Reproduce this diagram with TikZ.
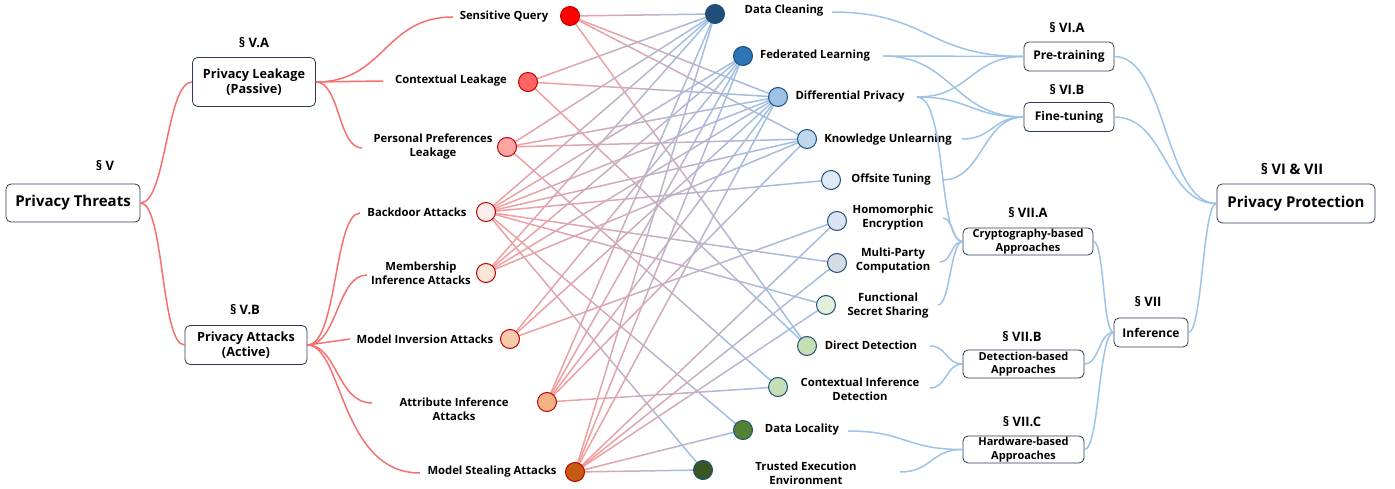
\documentclass[tikz,border=0pt]{standalone}
\usepackage{fontspec}
\setmainfont{Open Sans}
\usetikzlibrary{calc,backgrounds}
\definecolor{boxc}{HTML}{2B3A55}
\definecolor{lred}{HTML}{F77070}
\definecolor{lblue}{HTML}{9DC3E6}
\definecolor{epink}{HTML}{F59C9C}
\definecolor{eblue}{HTML}{9CC1E6}
\definecolor{dred}{HTML}{C00000}
\definecolor{dblue}{HTML}{1F4E79}
\definecolor{cA}{HTML}{FF0000}
\definecolor{cB}{HTML}{FF6565}
\definecolor{cC}{HTML}{FFA5A5}
\definecolor{cD}{HTML}{FDEEEE}
\definecolor{cE}{HTML}{FBE5D6}
\definecolor{cF}{HTML}{F8CBAD}
\definecolor{cG}{HTML}{F4B183}
\definecolor{cH}{HTML}{C55A11}
\definecolor{qA}{HTML}{1F4E79}
\definecolor{qB}{HTML}{2E75B6}
\definecolor{qC}{HTML}{9DC3E6}
\definecolor{qD}{HTML}{BDD7EE}
\definecolor{qE}{HTML}{DEEBF7}
\definecolor{qF}{HTML}{DAE3F3}
\definecolor{qG}{HTML}{D6DCE5}
\definecolor{qH}{HTML}{E2F0D9}
\definecolor{qI}{HTML}{C5E0B4}
\definecolor{qJ}{HTML}{C5E0B4}
\definecolor{qK}{HTML}{548235}
\definecolor{qL}{HTML}{385723}
\newcommand\gedge[2]{%
  \foreach \k in {0,...,9}{%
    \pgfmathsetmacro\ta{\k/10}%
    \pgfmathsetmacro\tb{(\k+1)/10}%
    \pgfmathtruncatemacro\mx{95-10*\k}%
    \draw[gline, draw=epink!\mx!eblue] ($(#1)!\ta!(#2)$) -- ($(#1)!\tb!(#2)$);
  }}
\begin{document}
\begin{tikzpicture}[x=1pt,y=-1pt,
  box/.style={draw=boxc, line width=0.8pt, rounded corners=5pt, fill=white, align=center,
    font=\bfseries\fontsize{12.7}{15.5}\selectfont, inner sep=0pt},
  sbox/.style={box, font=\bfseries\fontsize{11}{13.5}\selectfont},
  sec/.style={font=\bfseries\fontsize{13}{15}\selectfont, inner sep=0pt},
  leaf/.style={font=\bfseries\fontsize{11.3}{14}\selectfont, align=center, inner sep=0pt},
  tdot/.style={circle, draw=dred, line width=1pt, minimum size=19pt, inner sep=0pt},
  pdot/.style={circle, draw=dblue, line width=1pt, minimum size=19pt, inner sep=0pt},
  rline/.style={draw=lred, line width=1.5pt},
  bline/.style={draw=lblue, line width=1.5pt},
  gline/.style={line width=1.5pt, line cap=round}]
\useasboundingbox (0,0) rectangle (1395,489);

% ---------- left tree ----------
\node[sec] (sV) at (105,166) {§ V};
\node[box, minimum width=134pt, minimum height=38pt, font=\bfseries\fontsize{15}{17}\selectfont] (PT) at (73,203) {Privacy Threats};
\node[sec] (sVA) at (254,43) {§ V.A};
\node[box, minimum width=123pt, minimum height=49pt] (PL) at (254,82) {Privacy Leakage\\(Passive)};
\node[sec] (sVB) at (245,310) {§ V.B};
\node[box, minimum width=122pt, minimum height=39pt] (PA) at (246,345) {Privacy Attacks\\(Active)};

\node[leaf] (l1) at (504,17) {Sensitive Query};
\node[leaf] (l2) at (451,81) {Contextual Leakage};
\node[leaf] (l3) at (433,147) {Personal Preferences\\Leakage};
\node[leaf] (l4) at (417,212) {Backdoor Attacks};
\node[leaf] (l5) at (421,273) {Membership\\Inference Attacks};
\node[leaf] (l6) at (425,339) {Model Inversion Attacks};
\node[leaf] (l7) at (454,409) {Attribute Inference\\Attacks};
\node[leaf] (l8) at (492,472) {Model Stealing Attacks};

\coordinate (e1) at (453,17);
\coordinate (e2) at (383,81);
\coordinate (e3) at (362,148);
\coordinate (e4) at (360,213);
\coordinate (e5) at (367,275);
\coordinate (e6) at (350,339);
\coordinate (e7) at (372,403);
\coordinate (e8) at (420,473);

\draw[rline] (PT.east) .. controls +(26,0) and +(-26,0) .. (PL.west);
\draw[rline] (PT.east) .. controls +(24,0) and +(-24,0) .. (PA.west);
\draw[rline] (PL.east) .. controls +(69,0) and +(-69,0) .. (e1);
\draw[rline] (PL.east) -- (e2);
\draw[rline] (PL.east) .. controls +(24,0) and +(-24,0) .. (e3);
\draw[rline] (PA.east) .. controls +(30,0) and +(-26,0) .. (e4);
\draw[rline] (PA.east) .. controls +(30,0) and +(-30,0) .. (e5);
\draw[rline] (PA.east) -- (e6);
\draw[rline] (PA.east) .. controls +(30,0) and +(-35,0) .. (e7);
\draw[rline] (PA.east) .. controls +(35,0) and +(-80,0) .. (e8);

% ---------- threat dots ----------
\node[tdot, fill=cA] (t1) at (570,16) {};
\node[tdot, fill=cB] (t2) at (528,82) {};
\node[tdot, fill=cC] (t3) at (507,147) {};
\node[tdot, fill=cD] (t4) at (486,212) {};
\node[tdot, fill=cE] (t5) at (486,273) {};
\node[tdot, fill=cF] (t6) at (510,339) {};
\node[tdot, fill=cG] (t7) at (547,402) {};
\node[tdot, fill=cH] (t8) at (575,472) {};

% ---------- protection dots ----------
\node[pdot, fill=qA] (p1) at (715,14) {};
\node[pdot, fill=qB] (p2) at (743,56) {};
\node[pdot, fill=qC] (p3) at (778,97) {};
\node[pdot, fill=qD] (p4) at (807,139) {};
\node[pdot, fill=qE] (p5) at (831,180) {};
\node[pdot, fill=qF] (p6) at (837,221) {};
\node[pdot, fill=qG] (p7) at (837,263) {};
\node[pdot, fill=qH] (p8) at (826,305) {};
\node[pdot, fill=qI] (p9) at (807,346) {};
\node[pdot, fill=qJ] (p10) at (778,387) {};
\node[pdot, fill=qK] (p11) at (743,430) {};
\node[pdot, fill=qL] (p12) at (703,470) {};

\begin{pgfonlayer}{background}
\gedge{t1}{p1}\gedge{t1}{p3}\gedge{t1}{p4}\gedge{t1}{p9}
\gedge{t2}{p1}\gedge{t2}{p3}\gedge{t2}{p9}
\gedge{t3}{p1}\gedge{t3}{p3}\gedge{t3}{p4}\gedge{t3}{p10}
\gedge{t4}{p1}\gedge{t4}{p2}\gedge{t4}{p3}\gedge{t4}{p4}\gedge{t4}{p5}\gedge{t4}{p7}\gedge{t4}{p8}\gedge{t4}{p11}\gedge{t4}{p12}
\gedge{t5}{p1}\gedge{t5}{p2}\gedge{t5}{p3}\gedge{t5}{p4}
\gedge{t6}{p2}\gedge{t6}{p3}\gedge{t6}{p6}
\gedge{t7}{p1}\gedge{t7}{p2}\gedge{t7}{p3}\gedge{t7}{p4}\gedge{t7}{p10}
\gedge{t8}{p1}\gedge{t8}{p2}\gedge{t8}{p3}\gedge{t8}{p6}\gedge{t8}{p7}\gedge{t8}{p8}\gedge{t8}{p11}\gedge{t8}{p12}
\end{pgfonlayer}

% ---------- protection texts ----------
\node[leaf] (r1) at (784,11) {Data Cleaning};
\node[leaf] (r2) at (815,56) {Federated Learning};
\node[leaf] (r3) at (850,97) {Differential Privacy};
\node[leaf] (r4) at (888,140) {Knowledge Unlearning};
\node[leaf] (r5) at (891,180) {Offsite Tuning};
\node[leaf] (r6) at (893,218) {Homomorphic\\Encryption};
\node[leaf] (r7) at (893,261) {Multi-Party\\Computation};
\node[leaf] (r8) at (888,306) {Functional\\Secret Sharing};
\node[leaf] (r9) at (871,345) {Direct Detection};
\node[leaf] (r10) at (860,389) {Contextual Inference\\Detection};
\node[leaf] (r11) at (802,430) {Data Locality};
\node[leaf] (r12) at (806,473) {Trusted Execution\\Environment};

\coordinate (s1) at (832,12);
\coordinate (s2) at (883,56);
\coordinate (s3) at (917,97);
\coordinate (s4) at (962,139);
\coordinate (s5) at (942,180);
\coordinate (s6) at (943,218);
\coordinate (s7) at (940,262);
\coordinate (s8) at (938,305);
\coordinate (s9) at (930,346);
\coordinate (s10) at (930,388);
\coordinate (s11) at (848,431);
\coordinate (s12) at (900,472);

% ---------- right tree ----------
\node[sec] (sVIA) at (1067,28) {§ VI.A};
\node[box, minimum width=90pt, minimum height=29pt, font=\bfseries\fontsize{12}{14}\selectfont] (PRE) at (1069,56.5) {Pre-training};
\node[sec] (sVIB) at (1067,90) {§ VI.B};
\node[box, minimum width=90pt, minimum height=29pt, font=\bfseries\fontsize{12}{14}\selectfont] (FT) at (1069,117) {Fine-tuning};
\node[sec, font=\bfseries\fontsize{14.5}{16}\selectfont] (sVI) at (1292,169) {§ VI \& VII};
\node[box, minimum width=158pt, minimum height=39pt, font=\bfseries\fontsize{15}{17}\selectfont] (PP) at (1296,203.5) {Privacy Protection};
\node[sec] (sVIIA) at (1028,213) {§ VII.A};
\node[sbox, minimum width=130pt, minimum height=27pt] (CR) at (1028,241.5) {Cryptography-based\\Approaches};
\node[sec] (sVII) at (1148,302) {§ VII};
\node[box, minimum width=74pt, minimum height=29pt, font=\bfseries\fontsize{12}{14}\selectfont] (INF) at (1151,332.5) {Inference};
\node[sec] (sVIIB) at (1022,337) {§ VII.B};
\node[sbox, minimum width=121pt, minimum height=28pt] (DE) at (1023.5,364) {Detection-based\\Approaches};
\node[sec] (sVIIC) at (1022,422) {§ VII.C};
\node[sbox, minimum width=121pt, minimum height=27pt] (HW) at (1023.5,449.5) {Hardware-based\\Approaches};

\draw[bline] (s1) .. controls +(96,0) and +(-96,0) .. (PRE.west);
\draw[bline] (s2) .. controls +(70,0) and +(-70,0) .. (PRE.west);
\draw[bline] (s2) .. controls +(70,0) and +(-70,0) .. (FT.west);
\draw[bline] (s3) .. controls +(53,0) and +(-53,0) .. (PRE.west);
\draw[bline] (s3) .. controls +(53,0) and +(-53,0) .. (FT.west);
\draw[bline] (s3) .. controls +(30,0) and +(-25,0) .. (CR.west);
\draw[bline] (s4) .. controls +(31,0) and +(-31,0) .. (FT.west);
\draw[bline] (s5) .. controls +(41,0) and +(-41,0) .. (FT.west);
\draw[bline] (s6) .. controls +(10,0) and +(-10,0) .. (CR.west);
\draw[bline] (s7) .. controls +(12,0) and +(-12,0) .. (CR.west);
\draw[bline] (s8) .. controls +(12,0) and +(-12,0) .. (CR.west);
\draw[bline] (s9) .. controls +(17,0) and +(-17,0) .. (DE.west);
\draw[bline] (s10) .. controls +(17,0) and +(-17,0) .. (DE.west);
\draw[bline] (s11) .. controls +(58,0) and +(-58,0) .. (HW.west);
\draw[bline] (s12) .. controls +(32,0) and +(-32,0) .. (HW.west);
\draw[bline] (PRE.east) .. controls +(52,0) and +(-52,0) .. (PP.west);
\draw[bline] (FT.east) .. controls +(52,0) and +(-52,0) .. (PP.west);
\draw[bline] (INF.east) .. controls +(14,0) and +(-14,0) .. (PP.west);
\draw[bline] (CR.east) .. controls +(11,0) and +(-11,0) .. (INF.west);
\draw[bline] (DE.east) .. controls +(15,0) and +(-15,0) .. (INF.west);
\draw[bline] (HW.east) .. controls +(15,0) and +(-15,0) .. (INF.west);
\end{tikzpicture}
\end{document}
